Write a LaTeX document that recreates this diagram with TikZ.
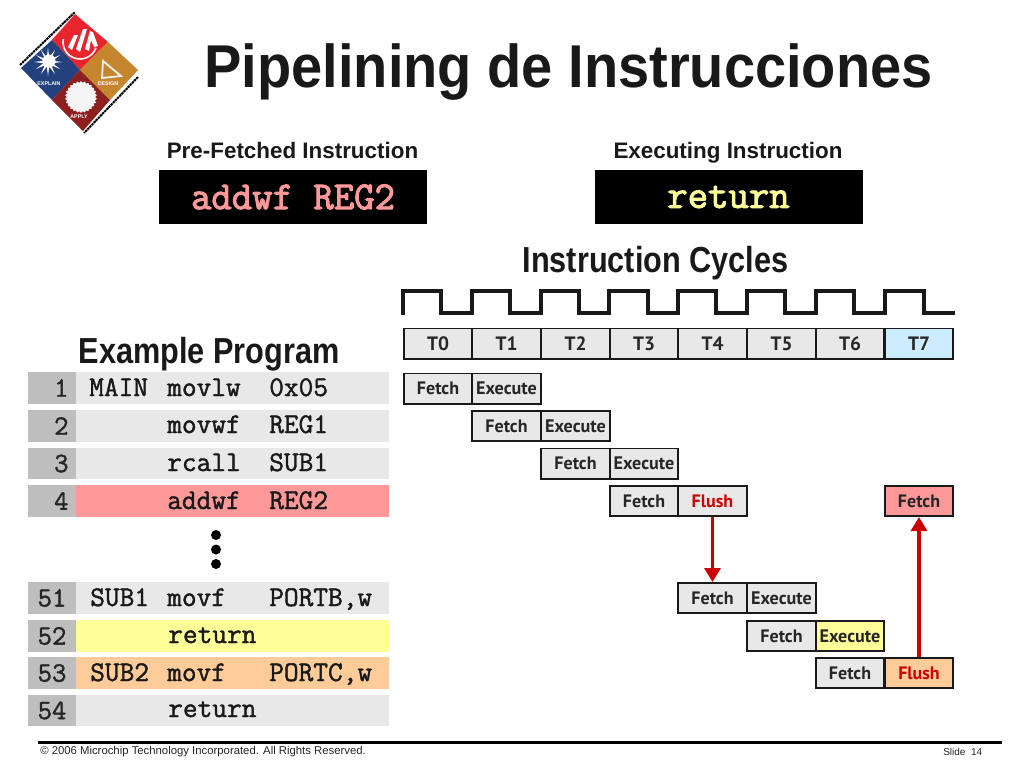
\documentclass[tikz,border=0pt]{standalone}
\usepackage{fontspec}
\setmainfont{Liberation Sans}
\newfontfamily\cellfont{PT Sans}
\newfontfamily\codefont[FakeBold=1.4]{Latin Modern Mono}
\newfontfamily\boxfont[FakeBold=2.6]{Latin Modern Mono}
\usetikzlibrary{arrows.meta,shapes.geometric}
\definecolor{lightcell}{HTML}{E8E8E8}
\definecolor{numgray}{HTML}{BEBEBE}
\definecolor{pinkcell}{HTML}{FF9999}
\definecolor{yellowcell}{HTML}{FFFF99}
\definecolor{orangecell}{HTML}{FFCC99}
\definecolor{bluecell}{HTML}{CCECFF}
\definecolor{flushred}{HTML}{CC0000}
\definecolor{logored}{HTML}{E8242C}
\definecolor{logogold}{HTML}{C6862E}
\definecolor{logoblue}{HTML}{23407F}
\definecolor{logodark}{HTML}{8E1F1F}
\tikzset{
 x=0.75pt,y=-0.75pt,
 cell/.style={draw=black!90,line width=1.2pt,inner sep=0pt,minimum width=51.4pt,minimum height=22.8pt,fill=lightcell,font=\cellfont\bfseries\fontsize{13.5}{14}\selectfont,text=black!85},
 tcell/.style={cell,font=\cellfont\bfseries\fontsize{14.5}{15}\selectfont},
 exec/.style={cell,font=\cellfont\bfseries\fontsize{13.6}{14}\selectfont},
 numcell/.style={fill=numgray,inner sep=0pt,minimum width=36pt,minimum height=23.6pt,text=black!85,font=\codefont\fontsize{21}{22}\selectfont},
 codecell/.style={fill=lightcell,inner sep=0pt,minimum width=234.8pt,minimum height=23.6pt},
 code/.style={anchor=base west,inner sep=0pt,text=black!90,font=\codefont\fontsize{21.4}{22}\selectfont},
 heading/.style={inner sep=0pt,font=\bfseries\fontsize{23}{24}\selectfont,text=black!90},
 subhead/.style={inner sep=0pt,font=\bfseries\fontsize{16.8}{18}\selectfont,text=black!90},
 blackbox/.style={fill=black,inner sep=0pt,minimum width=201pt,minimum height=40.5pt,font=\boxfont\fontsize{29.7}{30}\selectfont},
 redarrow/.style={draw=flushred,line width=2.4pt,-{Triangle[length=10.5pt,width=12pt]}},
 logotxt/.style={inner sep=0pt,text=white,font=\bfseries\fontsize{4}{4}\selectfont},
 foot/.style={inner sep=0pt,text=black!85,font=\fontsize{8.5}{9}\selectfont}
}
\begin{document}
\begin{tikzpicture}
\useasboundingbox[fill=white] (0,0) rectangle (1024,768);
% logo
\fill[logored] (75,14)--(108,42)--(80,70)--(52,40)--cycle;
\fill[logogold] (108,42)--(138,70)--(110,100)--(80,70)--cycle;
\fill[logoblue] (52,40)--(80,70)--(52,100)--(21,68)--cycle;
\fill[logodark] (80,70)--(110,100)--(83,131)--(52,100)--cycle;
\draw[black,line width=1.5pt,dash pattern=on 1.8pt off 0.5pt] (20,65)--(75,12);
\draw[black,line width=1.5pt,dash pattern=on 1.8pt off 0.5pt] (138,77)--(84,133);
\draw[white,line width=1.2pt] (96,47.8) arc[start angle=20,end angle=190,radius=17];
\fill[white] (68,47)--(74,35)--(78,35)--(72,50)--cycle;
\fill[white] (76,49)--(83,29)--(87,29)--(80,52)--cycle;
\fill[white] (85,49)--(90,31)--(93,32)--(98,46)--(94,47)--(91,40)--(89,51)--cycle;
\node[star,star points=12,star point ratio=3,fill=white,inner sep=0pt,minimum size=21pt] (bulbrays) at (48,62) {};
\fill[white] (49,61) circle[radius=6.5];
\node[logotxt] (logoa) at (49,84) {EXPLAIN};
\node[logotxt] (logob) at (108,84) {DESIGN};
\node[logotxt] (logoc) at (79,117) {APPLY};
\draw[white!90!gray,line width=1.3pt] (103,61)--(102,78)--(121,76)--cycle;
\node[star,star points=26,star point ratio=1.12,fill=white!92!gray,inner sep=0pt,minimum size=24pt] (blob) at (81,97) {};
% titles
\node[inner sep=0pt,font=\bfseries\fontsize{42}{43}\selectfont,text=black!90] (title) at (568.5,72) {\scalebox{1}[1.08]{Pipelining de Instrucciones}};
\node[subhead] (prehead) at (292.5,150) {Pre-Fetched Instruction};
\node[subhead] (exhead) at (728,153) {Executing Instruction};
\node[blackbox,text=pinkcell] (prebox) at (293,197) {addwf REG2};
\node[blackbox,text=yellowcell] (exbox) at (728.5,197) {return};
\node[heading] (cycles) at (655.5,263) {\scalebox{1}[1.18]{Instruction Cycles}};
\node[heading] (example) at (209,354) {\scalebox{1}[1.18]{Example Program}};
% clock
\draw[black!90,line width=2.4pt] (403,315)--(403,291)--(441,291)--(441,313)--(472,313)--(472,291)--(510,291)--(510,313)--(541,313)--(541,291)--(579,291)--(579,313)--(609,313)--(609,291)--(648,291)--(648,313)--(678,313)--(678,291)--(716,291)--(716,313)--(747,313)--(747,291)--(785,291)--(785,313)--(816,313)--(816,291)--(854,291)--(854,313)--(885,313)--(885,291)--(924,291)--(924,313)--(955,313);
% T row
\node[tcell] (t0) at (438,343.5) {T0};
\node[tcell] (t1) at (506.5,343.5) {T1};
\node[tcell] (t2) at (575.5,343.5) {T2};
\node[tcell] (t3) at (644,343.5) {T3};
\node[tcell] (t4) at (712.5,343.5) {T4};
\node[tcell] (t5) at (781.5,343.5) {T5};
\node[tcell] (t6) at (850,343.5) {T6};
\node[tcell,fill=bluecell] (t7) at (919,343.5) {T7};
% pipeline
\node[cell] (f1) at (438,388.5) {Fetch};
\node[exec] (e1) at (506.5,388.5) {Execute};
\node[cell] (f2) at (506.5,426) {Fetch};
\node[exec] (e2) at (575.5,426) {Execute};
\node[cell] (f3) at (575.5,463.5) {Fetch};
\node[exec] (e3) at (644,463.5) {Execute};
\node[cell] (f4) at (644,501) {Fetch};
\node[cell,text=flushred] (x4) at (712.5,501) {Flush};
\node[cell,fill=pinkcell] (f8) at (919,501) {Fetch};
\node[cell] (f5) at (712.5,598) {Fetch};
\node[exec] (e5) at (781.5,598) {Execute};
\node[cell] (f6) at (781.5,636) {Fetch};
\node[exec,fill=yellowcell] (e6) at (850,636) {Execute};
\node[cell] (f7) at (850,673) {Fetch};
\node[cell,fill=orangecell,text=flushred] (x7) at (919,673) {Flush};
\draw[redarrow] (x4.south) -- (f5.north);
\draw[redarrow] (x7.north) -- (f8.south);
% program rows
\node[numcell] (n1) at (52,388) {\hspace*{14pt}1};
\node[codecell] (c1) at (232.5,388) {};
\node[numcell] (n2) at (52,426) {\hspace*{14pt}2};
\node[codecell] (c2) at (232.5,426) {};
\node[numcell] (n3) at (52,463.5) {\hspace*{14pt}3};
\node[codecell] (c3) at (232.5,463.5) {};
\node[numcell] (n4) at (52,501) {\hspace*{14pt}4};
\node[codecell,fill=pinkcell] (c4) at (232.5,501) {};
\node[numcell] (n51) at (52,598) {51};
\node[codecell] (c51) at (232.5,598) {};
\node[numcell] (n52) at (52,636) {52};
\node[codecell,fill=yellowcell] (c52) at (232.5,636) {};
\node[numcell] (n53) at (52,673) {53};
\node[codecell,fill=orangecell] (c53) at (232.5,673) {};
\node[numcell] (n54) at (52,710.5) {54};
\node[codecell] (c54) at (232.5,710.5) {};
\node[code] (a1) at (89,396) {MAIN};
\node[code] (b1) at (167,396) {movlw};
\node[code] (d1) at (269,396) {0x05};
\node[code] (b2) at (167,433) {movwf};
\node[code] (d2) at (269,433) {REG1};
\node[code] (b3) at (167,471) {rcall};
\node[code] (d3) at (269,471) {SUB1};
\node[code] (b4) at (167,509) {addwf};
\node[code] (d4) at (269,509) {REG2};
\node[code] (a51) at (90,606) {SUB1};
\node[code] (b51) at (167,606) {movf};
\node[code] (d51) at (269,606) {PORTB,w};
\node[code] (b52) at (168,643) {return};
\node[code] (a53) at (90,681) {SUB2};
\node[code] (b53) at (167,681) {movf};
\node[code] (d53) at (269,681) {PORTC,w};
\node[code] (b54) at (168,717) {return};
% ellipsis dots
\fill[black] (216,535) circle[radius=5];
\fill[black] (216,549.5) circle[radius=5];
\fill[black] (216,564) circle[radius=5];
% footer
\draw[black,line width=2.3pt] (38,742.5) -- (1002,742.5);
\node[foot,anchor=west] (copy) at (40,752) {© 2006 Microchip Technology Incorporated. All Rights Reserved.};
\node[foot,anchor=west,font=\fontsize{7.5}{8}\selectfont] (slide) at (943,752) {Slide \ 14};
\end{tikzpicture}
\end{document}
